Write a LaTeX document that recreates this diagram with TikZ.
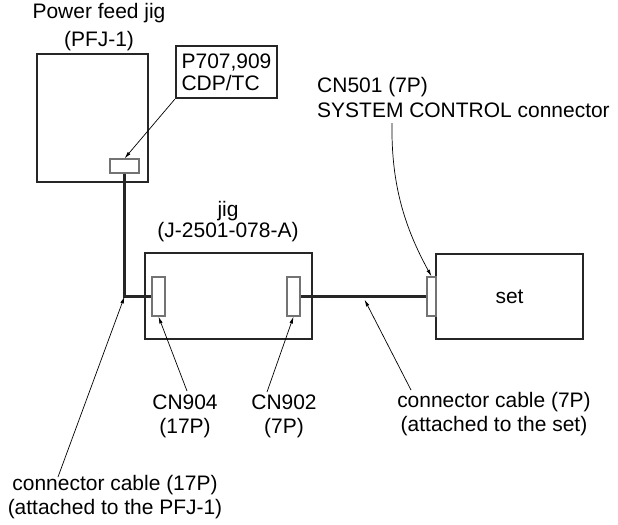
\documentclass[tikz,border=0pt]{standalone}
\usepackage{fontspec}
\setmainfont{Liberation Sans}
\usetikzlibrary{arrows.meta,calc,positioning}

\begin{document}
\begin{tikzpicture}[x=0.03cm, y=-0.03cm,
  font=\fontsize{17.9}{20.5}\selectfont,
  box/.style={draw=black!85, line width=2pt, inner sep=0pt},
  dims/.style 2 args={minimum width=#1*0.03cm, minimum height=#2*0.03cm},
  plug/.style={draw=black!55, line width=0.9pt, fill=white, inner sep=0pt},
  cable/.style={draw=black!85, line width=2pt},
  lead/.style={draw=black, line width=0.6pt, -{Latex[length=6pt,width=3pt]}},
  lbl/.style={align=center, inner sep=0pt}]
\useasboundingbox (0,0) rectangle (618,524);

% Units
\node[box, dims={111}{128}] (pfj) at (92.5,118) {};
\node[box, dims={167}{86}] (jig) at (228.5,296) {};
\node[box, dims={147}{85}] (set) at (509.5,296.5) {set};
\node[box, dims={101}{52}, align=left, font=\fontsize{17.9}{18.8}\selectfont] (cdp) at (226.5,72) {P707,909\\CDP/TC};

% Cables
\coordinate (bend) at (124.5,296.5);
\draw[cable] (124.5,173) -- (bend) -- (152,296.5);
\draw[cable] (300,296.5) -- (427,296.5);

% Plugs
\node[plug, dims={29}{14}] (pfjplug) at (124.5,166) {};
\node[plug, dims={13}{39}] (cn904) at (158.5,296.5) {};
\node[plug, dims={13}{39}] (cn902) at (293.5,296.5) {};
\node[plug, dims={9}{39}] (cn501) at (431.5,296.5) {};

% Labels
\node[lbl, font=\fontsize{17.9}{24}\selectfont] (pfjname) at (99,27) {Power feed jig\\(PFJ-1)};
\node[lbl, font=\fontsize{17.9}{18}\selectfont] (jigname) at (228,222) {jig\\(J-2501-078-A)};
\node[lbl, align=left, anchor=west, font=\fontsize{17.9}{22}\selectfont] (cn501name) at (317,97.5) {CN501 (7P)\\SYSTEM CONTROL connector};
\node[lbl] (cn904name) at (185,416) {CN904\\(17P)};
\node[lbl] (cn902name) at (284,416) {CN902\\(7P)};
\node[lbl] (cable7) at (494,414.5) {connector cable (7P)\\(attached to the set)};
\node[lbl] (cable17) at (115,497.5) {connector cable (17P)\\(attached to the PFJ-1)};

% Leads
\coordinate (c501) at (392,123);
\coordinate (c904) at (187,391);
\coordinate (c902) at (267,392);
\coordinate (c7) at (411,390);
\coordinate (c17) at (58,477);
\coordinate (mid7) at ($(cn902.east)!0.5!(cn501.west)+(1,3)$);
\draw[lead] (cdp.south west) -- (pfjplug.north);
\draw[lead] (c501) .. controls (391,185) and (405,228) .. (cn501.north);
\draw[lead] (c904) -- (cn904.south);
\draw[lead] (c902) -- (cn902.south);
\draw[lead] (c7) -- (mid7);
\draw[lead] (c17) -- (bend);
\end{tikzpicture}
\end{document}
